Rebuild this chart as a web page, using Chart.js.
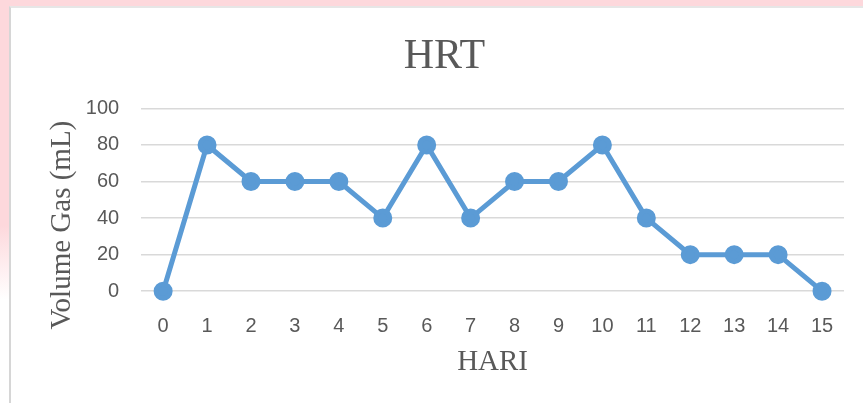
<!DOCTYPE html>
<html>
<head>
<meta charset="utf-8">
<script src="https://cdn.jsdelivr.net/npm/chart.js@4"></script>
<style>
  html, body { margin: 0; padding: 0; width: 863px; height: 403px; overflow: hidden; background: #fff; }
  .pinkTop { position: absolute; left: 0; top: 0; width: 863px; height: 6px; background: #fdd8dc; }
  .pinkLeft { position: absolute; left: 0; top: 0; width: 9px; height: 300px;
    background: linear-gradient(to bottom, #fdd8dc 0%, #fdd8dc 75%, #ffffff 100%); }
  .frame { position: absolute; left: 9px; top: 6px; width: 854px; height: 397px;
    border-left: 2px solid #d6d6d6; border-top: 2px solid #e6e6e6; background: #fff; }
  #wrap { position: absolute; left: 0; top: 0; width: 863px; height: 403px; }
</style>
</head>
<body>
<div class="pinkTop"></div>
<div class="pinkLeft"></div>
<div class="frame"></div>
<div id="wrap"><canvas id="myChart"></canvas></div>
<script>
// HRT chart data
const hari = ['0', '1', '2', '3', '4', '5', '6', '7', '8', '9', '10', '11', '12', '13', '14', '15'];
const volumeGas = [0, 80, 60, 60, 60, 40, 80, 40, 60, 60, 80, 40, 20, 20, 20, 0];
const yTicks = [0, 20, 40, 60, 80, 100];

const data = {
    labels: hari,
    datasets: [{
        label: 'HRT',
        data: volumeGas,
        borderColor: '#5b9bd5',
        backgroundColor: '#5b9bd5',
        borderWidth: 5,
        pointRadius: 7,
        pointHoverRadius: 7,
        tension: 0,
        clip: false
    }]
};

const config = {
    type: 'line',
    data: data,
    options: {
        responsive: true,
        maintainAspectRatio: false,
        animation: false,
        layout: { padding: { left: 45, right: 19, top: 32, bottom: 23 } },
        plugins: {
            legend: { display: false },
            tooltip: { enabled: false },
            title: {
                display: true,
                text: 'HRT',
                color: '#595959',
                font: { family: 'Liberation Serif', size: 42, weight: 'normal' },
                padding: { top: 0, bottom: 26 }
            }
        },
        scales: {
            x: {
                offset: true,
                grid: { display: false },
                border: { display: false },
                ticks: {
                    color: '#595959',
                    padding: 15,
                    maxRotation: 0,
                    font: { family: 'Liberation Sans', size: 20 }
                },
                title: {
                    display: true,
                    text: 'HARI',
                    color: '#595959',
                    font: { family: 'Liberation Serif', size: 29 },
                    padding: { top: -8, bottom: 0 }
                }
            },
            y: {
                min: 0,
                max: 100,
                afterBuildTicks: function (axis) {
                    axis.ticks = yTicks.map(function (v) { return { value: v }; });
                },
                grid: { color: '#d9d9d9', lineWidth: 1.5, drawTicks: false },
                border: { display: false },
                ticks: {
                    color: '#595959',
                    padding: 22,
                    font: { family: 'Liberation Sans', size: 20 }
                },
                title: {
                    display: true,
                    text: 'Volume Gas (mL)       ',
                    color: '#595959',
                    font: { family: 'Liberation Serif', size: 29 },
                    padding: { top: 0, bottom: -16 }
                }
            }
        }
    }
};

window.onload = function () {
    const ctx = document.getElementById('myChart').getContext('2d');
    new Chart(ctx, config);
};
</script>
</body>
</html>
